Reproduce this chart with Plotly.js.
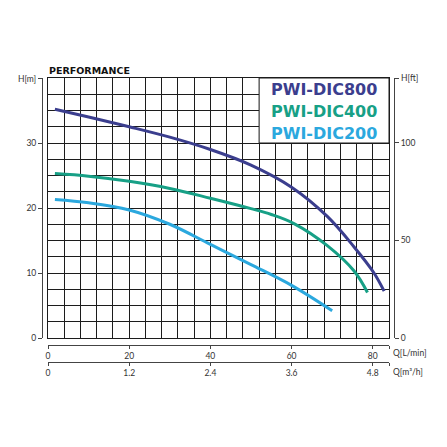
<!DOCTYPE html>
<html>
<head>
<meta charset="utf-8">
<script src="https://cdn.plot.ly/plotly-3.0.1.min.js"></script>
<style>
    html, body { margin: 0; padding: 0; background: #fff; }
    #chart { width: 447px; height: 447px; }
</style>
</head>
<body>
<div id="chart"></div>
<script>
// Pump curves (Q in L/min, H in m)
const q800 = [1.7, 10, 20, 30, 40, 50, 60, 68.8, 75.4, 80.3, 82.8];
const h800 = [35.2, 34.0, 32.5, 30.9, 29.0, 26.6, 23.2, 18.7, 14.0, 10.0, 7.2];

const q400 = [1.7, 10, 20, 30, 40, 50, 55, 60.6, 68.8, 75.4, 78.7];
const h400 = [25.3, 24.9, 24.1, 23.0, 21.5, 19.9, 19.0, 17.6, 14.2, 10.3, 7.0];

const q200 = [1.7, 10, 20, 30, 40, 50, 60, 70];
const h200 = [21.3, 20.8, 19.7, 17.5, 14.4, 11.3, 8.1, 4.2];

const models = ["PWI-DIC800", "PWI-DIC400", "PWI-DIC200"];
const colors = ["#3b3e8e", "#17a086", "#2ba8de"];

// Tick labels
const qTicks = [0, 20, 40, 60, 80];
const m3hTicks = ["0", "1.2", "2.4", "3.6", "4.8"];
const hTicks = [0, 10, 20, 30];
const ftTicks = [0, 50, 100];

const W = 447;
const px = v => v / W;          // horizontal pixel -> paper
const py = v => 1 - v / W;      // vertical pixel -> paper

const FONT = "Lato, 'Noto Sans', sans-serif";
const BOLD = "'DejaVu Sans', sans-serif";
const GRID = "#1c1c1c";

const curve = (q, h, i) => ({
    x: q, y: h,
    type: "scatter", mode: "lines",
    line: { color: colors[i], width: 3, shape: "spline", smoothing: 1 },
    name: models[i],
    hoverinfo: "skip"
});

const data = [
    curve(q800, h800, 0),
    curve(q400, h400, 1),
    curve(q200, h200, 2),
    // empty traces so the extra axes get drawn
    { x: [], y: [], xaxis: "x2", yaxis: "y", type: "scatter" },
    { x: [], y: [], xaxis: "x3", yaxis: "y", type: "scatter" },
    { x: [], y: [], xaxis: "x", yaxis: "y2", type: "scatter" },
    { x: [], y: [], xaxis: "x", yaxis: "y3", type: "scatter" }
];

const tickFont = { family: FONT, size: 8.5, color: "#333" };

const layout = {
    width: W, height: W,
    margin: { l: 0, r: 0, t: 0, b: 0 },
    paper_bgcolor: "#fff",
    plot_bgcolor: "#fff",
    showlegend: false,
    xaxis: {
        domain: [px(48), px(389)],
        range: [0, 84], dtick: 4,
        showgrid: true, gridcolor: GRID, gridwidth: 1,
        showline: true, mirror: true, linecolor: GRID, linewidth: 1,
        zeroline: false, showticklabels: false, ticks: "",
        fixedrange: true
    },
    yaxis: {
        domain: [py(338), py(78)],
        range: [0, 40], dtick: 2.5,
        showgrid: true, gridcolor: GRID, gridwidth: 1,
        showline: true, mirror: true, linecolor: GRID, linewidth: 1,
        zeroline: false, showticklabels: false, ticks: "",
        fixedrange: true
    },
    // Q [L/min]
    xaxis2: {
        overlaying: "x", anchor: "free", position: py(345), side: "bottom",
        range: [0, 84],
        tickvals: qTicks.concat([84]),
        ticktext: qTicks.map(String).concat([""]),
        showgrid: false, zeroline: false,
        showline: true, linecolor: "#444", linewidth: 1,
        ticks: "outside", ticklen: 3, tickcolor: "#444",
        tickfont: tickFont
    },
    // Q [m3/h]
    xaxis3: {
        overlaying: "x", anchor: "free", position: py(362), side: "bottom",
        range: [0, 84],
        tickvals: qTicks.concat([84]),
        ticktext: m3hTicks.concat([""]),
        showgrid: false, zeroline: false,
        showline: true, linecolor: "#444", linewidth: 1,
        ticks: "outside", ticklen: 3, tickcolor: "#444",
        tickfont: tickFont
    },
    // H [m]
    yaxis2: {
        overlaying: "y", anchor: "free", position: px(42), side: "left",
        range: [0, 40],
        tickvals: hTicks.concat([40]),
        ticktext: hTicks.map(String).concat([""]),
        showgrid: false, zeroline: false,
        showline: true, linecolor: "#444", linewidth: 1,
        ticks: "outside", ticklen: 4, tickcolor: "#444",
        tickfont: tickFont
    },
    // H [ft]
    yaxis3: {
        overlaying: "y", anchor: "free", position: px(394), side: "right",
        range: [0, 133.3],
        tickvals: ftTicks.concat([133.3]),
        ticktext: ftTicks.map(String).concat([""]),
        showgrid: false, zeroline: false,
        showline: true, linecolor: "#444", linewidth: 1,
        ticks: "outside", ticklen: 4, tickcolor: "#444",
        tickfont: tickFont
    },
    shapes: [{
        type: "rect", xref: "x", yref: "y",
        x0: 52, x1: 84, y0: 30, y1: 40,
        fillcolor: "#fff", line: { color: GRID, width: 1 },
        layer: "above"
    }],
    annotations: [
        {
            text: "<b>PERFORMANCE</b>", xref: "paper", yref: "paper",
            x: px(47), y: py(70), xanchor: "left", yanchor: "middle",
            showarrow: false, font: { family: BOLD, size: 9.5, color: "#111" }
        },
        {
            text: "H[m]", xref: "paper", yref: "paper",
            x: px(38), y: py(79), xanchor: "right", yanchor: "middle",
            showarrow: false, font: tickFont
        },
        {
            text: "H[ft]", xref: "paper", yref: "paper",
            x: px(399), y: py(78), xanchor: "left", yanchor: "middle",
            showarrow: false, font: tickFont
        },
        {
            text: "Q[L/min]", xref: "paper", yref: "paper",
            x: px(391), y: py(353), xanchor: "left", yanchor: "middle",
            showarrow: false, font: tickFont
        },
        {
            text: "Q[m³/h]", xref: "paper", yref: "paper",
            x: px(391), y: py(372), xanchor: "left", yanchor: "middle",
            showarrow: false, font: tickFont
        }
    ]
};

// model names in the white box, top right
models.forEach((m, i) => {
    layout.annotations.push({
        text: "<b>" + m + "</b>", xref: "paper", yref: "paper",
        x: px(379), y: py(90 + i * 21.5), xanchor: "right", yanchor: "middle",
        showarrow: false, font: { family: BOLD, size: 16, color: colors[i] }
    });
});

Plotly.newPlot("chart", data, layout, { displayModeBar: false, staticPlot: true });
</script>
</body>
</html>
